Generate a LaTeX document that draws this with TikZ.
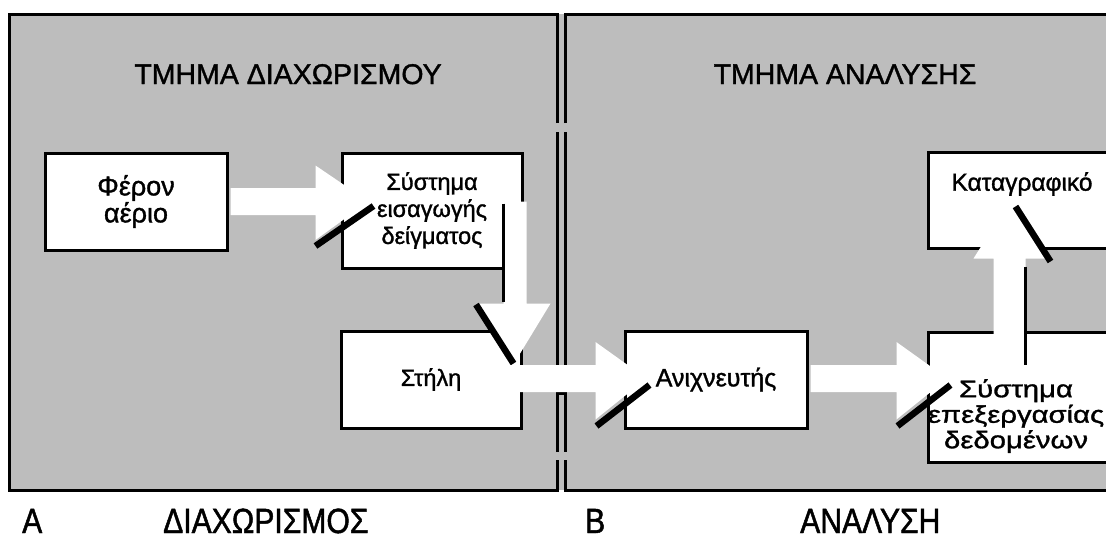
\documentclass[tikz,border=0pt]{standalone}
\usepackage{fontspec}
\setmainfont{Liberation Sans}[FakeBold=1.3]
\newfontfamily\widefont{Liberation Sans}[FakeStretch=1.22, FakeBold=1.3]
\newfontfamily\tallfont{Liberation Sans}[FakeStretch=0.86, FakeBold=1.3]
\usetikzlibrary{calc}

\begin{document}
\begin{tikzpicture}[
        x=1pt, y=-1pt,
        box/.style={draw, fill=white, line width=3pt, inner sep=0pt, align=center,
            font=\fontsize{23.5}{27}\selectfont},
        heading/.style={anchor=base, inner sep=0pt, font=\fontsize{28.5}{30}\selectfont},
        sectionlabel/.style={anchor=base west, inner sep=0pt, font=\tallfont\fontsize{35}{36}\selectfont}
    ]

    \tikzset{
    flow/.style={fill=white},
    slash/.style={line width=6.5pt},
    rim/.style={line width=3.5pt},
    wall/.style={line width=3pt}
}

    \useasboundingbox (0,0) rectangle (1106,539);
    \clip (0,0) rectangle (1106,539);

    \fill[black!26] (9,14) rectangle (1120,490);
    \draw[wall] (557,123) -- (557,14) -- (9,14) -- (9,490) -- (557,490) -- (557,460);
    \draw[wall] (557,132) -- (557,365);
    \draw[wall] (557,452) -- (557,393) -- (565,393) -- (565,452);
    \draw[wall] (565,132) -- (565,365);
    \draw[wall] (565,123) -- (565,14) -- (1120,14);
    \draw[wall] (565,460) -- (565,490) -- (1120,490);

    \node[heading] (sepTitle) at (288,84) {ΤΜΗΜΑ ΔΙΑΧΩΡΙΣΜΟΥ};
    \node[heading] (anaTitle) at (845,84) {ΤΜΗΜΑ ΑΝΑΛΥΣΗΣ};

    \node[box, minimum width=182pt, minimum height=97pt, font=\fontsize{27}{27}\selectfont] (carrier) at (136,201.5) {Φέρον\\αέριο};
    \node[box, minimum width=180pt, minimum height=115pt] (inject) at (432,210.5) {Σύστημα\\εισαγωγής\\δείγματος};
    \node[box, minimum width=180pt, minimum height=97pt] (column) at (431,379.5) {Στήλη};
    \node[box, minimum width=182pt, minimum height=97pt, font=\fontsize{25}{27}\selectfont] (detector) at (716,379.5) {Ανιχνευτής};
    \node[box, minimum width=202pt, minimum height=96pt] (recorder) at (1029,200) {};
    \node[box, minimum width=202pt, minimum height=130pt] (proc) at (1029,397) {};
    \node[inner sep=0pt, font=\fontsize{24.5}{27}\selectfont] (recorderText) at (1022,184) {Καταγραφικό};
    \node[inner sep=0pt, align=center, font=\widefont\fontsize{24}{25.5}\selectfont] (procText) at (1016,416) {Σύστημα\\επεξεργασίας\\δεδομένων};

    \coordinate (t1) at ($(carrier.east -| inject.west)+(28,0)$);
    \fill[flow] ($(carrier.east)+(2,-13.5)$) -| ($(t1)+(-53,-36)$) -- (t1) -- ($(t1)+(-53,38.5)$) |- ($(carrier.east)+(2,13.5)$) -- cycle;
    \draw[slash] ($(t1)+(-53,44.5)$) -- ($(t1)+(5,4.5)$);

    \coordinate (t2) at ($(inject.south east)+(-9.5,94)$);
    \fill[flow] ($(t2)+(-10.5,-162)$) -- ++(23,0) -- ++(0,102) -- ++(24,0) -- (t2) -- ++(-36.5,-60) -- ++(26,0) -- cycle;
    \draw[slash] ($(t2)+(-38,-59)$) -- ($(t2)+(-0.5,0)$);
    \draw[rim] ($(t2)+(-10.5,-160)$) -- ($(t2)+(-10.5,-62)$);

    \coordinate (t3) at ($(column.east -| detector.west)+(23,-1)$);
    \fill[flow] ($(column.east)+(-16,-14.5)$) -| ($(t3)+(-51,-36.5)$) -- (t3) -- ($(t3)+(-51,41)$) |- ($(column.east)+(-16,12.5)$) -- cycle;
    \draw[slash] ($(t3)+(-50,47.5)$) -- ($(t3)+(3,6.5)$);

    \coordinate (t4) at ($(detector.east -| proc.west)+(21,-1)$);
    \fill[flow] ($(detector.east)+(2,-14.5)$) -| ($(t4)+(-51,-36.5)$) -- (t4) -- ($(t4)+(-51,41)$) |- ($(detector.east)+(2,12.5)$) -- cycle;
    \draw[slash] ($(t4)+(-50,47.5)$) -- ($(t4)+(3,6.5)$);

    \coordinate (t5) at ($(recorder.south west)+(83,-48)$);
    \fill[flow] ($(t5)+(-16,165)$) -- ++(0,-108) -- ++(-20,0) -- (t5) -- ++(36,57) -- ++(-20,0) -- ++(0,108) -- cycle;
    \draw[slash] ($(t5)+(6,5)$) -- ($(t5)+(41,60)$);
    \draw[rim] ($(t5)+(16,65)$) -- ($(t5)+(16,163)$);

    \node[sectionlabel] (labA) at (22,533) {Α};
    \node[sectionlabel] (labSep) at (163,533) {ΔΙΑΧΩΡΙΣΜΟΣ};
    \node[sectionlabel] (labB) at (585,533) {Β};
    \node[sectionlabel] (labAna) at (800,533) {ΑΝΑΛΥΣΗ};
    \end{tikzpicture}
\end{document}
